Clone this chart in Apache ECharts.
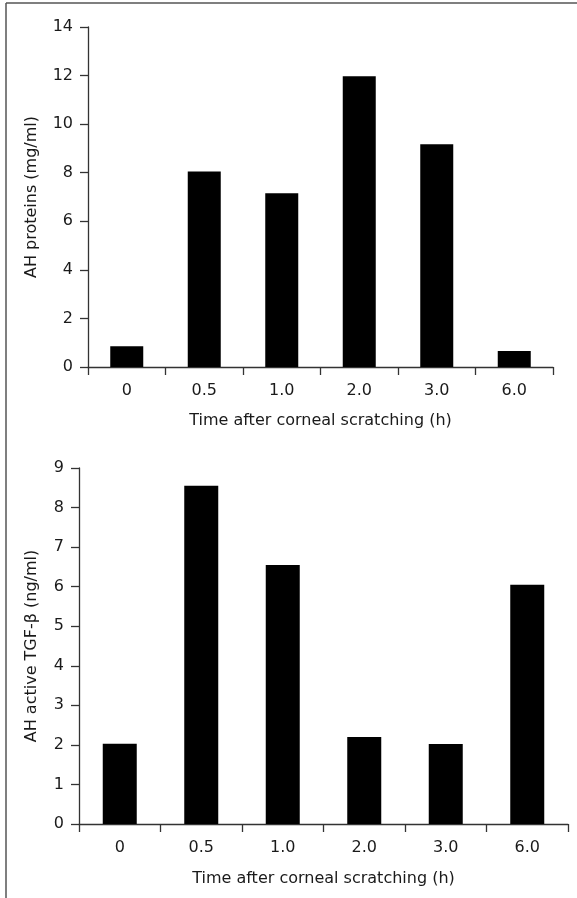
<!DOCTYPE html>
<html>
<head>
<meta charset="utf-8">
<title>AH proteins and TGF-beta</title>
<script src="https://cdn.jsdelivr.net/npm/echarts@6/dist/echarts.min.js"></script>
<style>
  html, body { margin: 0; padding: 0; background: #fff; }
  #chart { width: 577px; height: 898px; }
</style>
</head>
<body>
<div id="chart"></div>
<script>
  'use strict';

  // 时间点 (h)
  var times = ['0', '0.5', '1.0', '2.0', '3.0', '6.0'];
  // AH proteins (mg/ml)
  var proteins = [0.85, 8.05, 7.15, 11.97, 9.17, 0.66];
  // AH active TGF-beta (ng/ml)
  var tgfBeta = [2.03, 8.55, 6.55, 2.2, 2.02, 6.05];

  var FONT = '"DejaVu Sans", sans-serif';
  var INK = '#1a1a1a';
  var AXIS = '#333';
  var LABEL_SIZE = 16;
  var NAME_SIZE = 16;

  /*一套坐标轴的公共样式*/
  var catAxis = function (idx, gap, margin){
    return {
      type: 'category',
      gridIndex: idx,
      data: times,
      name: 'Time after corneal scratching (h)',
      nameLocation: 'middle',
      nameGap: gap,
      nameTextStyle: {color: INK, fontSize: NAME_SIZE, fontFamily: FONT},
      axisLine: {lineStyle: {color: AXIS, width: 1.3}},
      axisTick: {show: true, length: 8, alignWithLabel: false, lineStyle: {color: AXIS, width: 1.3}},
      axisLabel: {color: INK, fontSize: LABEL_SIZE, fontFamily: FONT, margin: margin},
      splitLine: {show: false}
    };
  };

  var valAxis = function (idx, name, max, interval, gap){
    return {
      type: 'value',
      gridIndex: idx,
      min: 0,
      max: max,
      interval: interval,
      name: name,
      nameLocation: 'middle',
      nameGap: gap,
      nameTextStyle: {color: INK, fontSize: NAME_SIZE, fontFamily: FONT},
      axisLine: {show: true, lineStyle: {color: AXIS, width: 1.3}},
      axisTick: {show: true, length: 8, lineStyle: {color: AXIS, width: 1.3}},
      axisLabel: {color: INK, fontSize: LABEL_SIZE, fontFamily: FONT, margin: 15},
      splitLine: {show: false}
    };
  };

  var myChart = echarts.init(document.getElementById('chart'), null, {renderer: 'canvas'});
  var option = {
    backgroundColor: '#fff',
    animation: false,
    textStyle: {fontFamily: FONT},
    grid: [
      {left: 88, top: 27, width: 465, height: 340, containLabel: false},
      {left: 79, top: 468, width: 489, height: 356, containLabel: false}
    ],
    xAxis: [
      catAxis(0, 46, 16),
      catAxis(1, 47, 16)
    ],
    yAxis: [
      valAxis(0, 'AH proteins (mg/ml)', 14, 2, 48),
      valAxis(1, 'AH active TGF-\u03b2 (ng/ml)', 9, 1, 39)
    ],
    series: [
      {
        name: 'AH proteins',
        type: 'bar',
        xAxisIndex: 0,
        yAxisIndex: 0,
        barWidth: 33,
        itemStyle: {color: '#000'},
        data: proteins
      },
      {
        name: 'AH active TGF-beta',
        type: 'bar',
        xAxisIndex: 1,
        yAxisIndex: 1,
        barWidth: 34,
        itemStyle: {color: '#000'},
        data: tgfBeta
      }
    ],
    graphic: [
      {type: 'line', shape: {x1: 6, y1: 3, x2: 577, y2: 3}, style: {stroke: '#555', lineWidth: 1.5}},
      {type: 'line', shape: {x1: 6, y1: 3, x2: 6, y2: 898}, style: {stroke: '#555', lineWidth: 1.5}}
    ]
  };

  myChart.setOption(option);
</script>
</body>
</html>
